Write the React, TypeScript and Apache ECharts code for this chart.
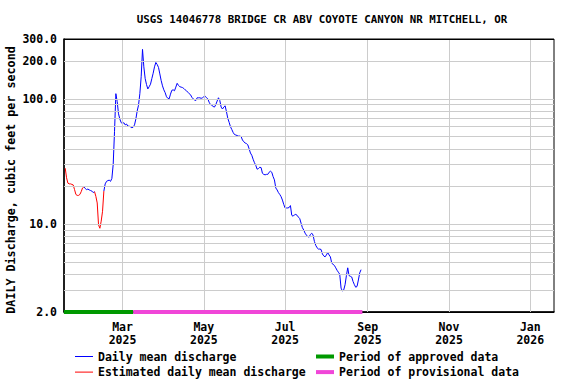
import { useEffect, useRef } from 'react';
import * as echarts from 'echarts';

const TITLE = 'USGS 14046778 BRIDGE CR ABV COYOTE CANYON NR MITCHELL, OR';
const Y_NAME = 'DAILY Discharge, cubic feet per second';

// daily mean discharge (cfs), one value per day starting at FIRST_DAY
const FIRST_DAY = '2025-01-17';
const dailyFlow = [
  28, 23.5, 21.3, 21.0, 21.0, 20.8, 20.6, 18.9, 17.3, 17.0,
  17.0, 17.3, 18.2, 19.5, 19.9, 19.3, 18.9, 19.1, 18.8, 18.6,
  18.4, 17.9, 18.2, 16.7, 14.8, 9.9, 9.3, 10.6, 12.7, 18.4,
  21.0, 22.0, 22.3, 22.5, 22.0, 23.2, 30, 55, 110, 95,
  76, 69, 64.6, 63.4, 64.6, 62, 63, 60.6, 60.6, 59.8,
  58.9, 59.5, 62, 69, 80, 89, 110, 150, 248, 180,
  145, 130, 120, 125, 131, 145, 160, 180, 195, 188,
  178, 158, 140, 127, 118, 112, 104, 101, 100, 109,
  117, 118, 116, 124, 133, 128, 125, 124, 123, 121,
  118, 116, 113, 110, 108, 103, 100, 98, 97, 102,
  102, 102, 101, 102, 104, 105, 102, 100, 94, 90,
  89, 87, 86, 90, 96, 102, 97, 86, 83, 86,
  88, 79, 70, 65, 60, 57, 54, 52, 51.5, 51,
  50.5, 50.5, 50, 47, 45.5, 44.5, 44, 43, 40, 37,
  35.5, 33, 31, 29.5, 27.5, 27.8, 28.5, 28.3, 25.5, 25,
  24.8, 25, 25, 26, 26.5, 26, 24, 22.6, 19.5, 18.8,
  17.9, 17.3, 16.6, 15.6, 14.4, 13.5, 13.5, 13.5, 13.6, 14.1,
  11.8, 11.6, 11.9, 12.0, 11.8, 11.4, 11.1, 10.2, 9.4, 9.0,
  8.5, 8.2, 8.0, 7.9, 8.3, 8.5, 8.2, 7.3, 6.8, 6.5,
  6.35, 6.35, 6.3, 5.8, 5.6, 5.5, 5.7, 5.95, 5.7, 5.5,
  4.9, 4.8, 4.7, 4.5, 4.3, 4.15, 4.0, 3.1, 2.94, 3.0,
  3.3, 3.9, 4.5, 3.9, 3.85, 3.8, 3.5, 3.3, 3.15, 3.2,
  3.6, 4.1, 4.35,
];
// index ranges (inclusive) of estimated values
const estimatedSpans = [[0, 14], [22, 29]];

const approvedPeriod = ['2025-01-16', '2025-03-09'];
const provisionalPeriod = ['2025-03-09', '2025-08-28'];

const xTickDates = ['2025-03-01', '2025-05-01', '2025-07-01', '2025-09-01', '2025-11-01', '2026-01-01'];
const xTickLabels = ['Mar\n2025', 'May\n2025', 'Jul\n2025', 'Sep\n2025', 'Nov\n2025', 'Jan\n2026'];
const yTickValues = [2, 10, 100, 200, 300];
const yGridValues = [3, 4, 5, 6, 7, 8, 9, 10, 20, 30, 40, 50, 60, 70, 80, 90, 100, 200];

const DAY = 86400000;
const X_MIN = Date.UTC(2025, 0, 16, 2);
const X_MAX = Date.UTC(2026, 0, 18, 19);
const Y_MIN = 2;
const Y_MAX = 300;

const FONT = '"DejaVu Sans Mono", monospace';
const GRID_COLOR = '#cccccc';

export default function App() {
  const ref = useRef<HTMLDivElement>(null);
  useEffect(() => {
    const chart = echarts.init(ref.current!, null, { renderer: 'svg' });
    const t0 = Date.parse(FIRST_DAY);
    const isEst = (i: number) => estimatedSpans.some(([a, b]) => i >= a && i <= b);
    const isEstInterior = (i: number) => estimatedSpans.some(([a, b]) => i > a && i < b) || i === 0;
    const blueData = dailyFlow.map((v, i) => [t0 + i * DAY, isEstInterior(i) ? null : v]);
    const redData = dailyFlow.map((v, i) => [t0 + i * DAY, isEst(i) ? v : null]);
    const xTickMs = xTickDates.map((d) => Date.parse(d));

    const textStyle = { color: '#000', fontFamily: FONT, fontSize: 11.5, fontWeight: 'bold' as const };

    // keep the edge ticks a hair inside the axis extent so they are not filtered out
    const clampY = (v: number) => Math.min(Math.max(v, Y_MIN * 1.0005), Y_MAX * 0.9995);

    const gridLines: any[] = [
      ...yGridValues.map((v) => ({ yAxis: v })),
      ...xTickMs.map((t) => ({ xAxis: t })),
      ...yTickValues.map((v) => ({
        yAxis: clampY(v),
        lineStyle: v === Y_MIN || v === Y_MAX ? { color: '#000' } : undefined,
        label: {
          show: true,
          position: 'start',
          distance: 7,
          formatter: v.toFixed(1),
          ...textStyle,
        },
      })),
    ];

    const option: any = {
      animation: false,
      backgroundColor: '#ffffff',
      grid: {
        left: 64,
        right: 22,
        top: 39,
        bottom: 72,
        show: true,
        borderColor: '#000',
        borderWidth: 1,
        backgroundColor: 'transparent',
        outerBoundsMode: 'none',
        containLabel: false,
      },
      graphic: [
        {
          type: 'text',
          x: 322,
          y: 19,
          style: {
            text: TITLE,
            fill: '#000',
            font: `bold 10.8px ${FONT}`,
            textAlign: 'center',
            textVerticalAlign: 'middle',
          },
        },
      ],
      xAxis: {
        type: 'value',
        min: X_MIN,
        max: X_MAX,
        axisLine: { show: true, lineStyle: { color: '#000', width: 1.5 } },
        axisTick: { show: false },
        splitLine: { show: false },
        axisLabel: {
          customValues: xTickMs,
          formatter: (v: number) => {
            const idx = xTickMs.findIndex((t) => Math.abs(t - v) < DAY);
            return idx >= 0 ? xTickLabels[idx] : '';
          },
          margin: 8,
          lineHeight: 13,
          hideOverlap: false,
          ...textStyle,
        },
      },
      yAxis: {
        type: 'log',
        logBase: 10,
        min: Y_MIN,
        max: Y_MAX,
        name: Y_NAME,
        nameLocation: 'middle',
        nameRotate: 90,
        nameGap: 47,
        nameTextStyle: { ...textStyle, fontSize: 11.7, padding: [0, 9, 0, 0] },
        axisLine: { show: true, lineStyle: { color: '#000', width: 1.5 } },
        axisTick: { show: false },
        axisLabel: { show: false },
        splitLine: { show: false },
        minorSplitLine: { show: false },
      },
      legend: [
        {
          data: ['Daily mean discharge', 'Estimated daily mean discharge'],
          orient: 'vertical',
          left: 75,
          top: 350,
          padding: 0,
          itemGap: 2.6,
          itemWidth: 18,
          itemHeight: 1,
          icon: 'rect',
          selectedMode: false,
          textStyle: { ...textStyle, lineHeight: 13 },
        },
        {
          data: ['Period of approved data', 'Period of provisional data'],
          orient: 'vertical',
          left: 316,
          top: 350,
          padding: 0,
          itemGap: 2.6,
          itemWidth: 18,
          itemHeight: 4,
          icon: 'rect',
          selectedMode: false,
          textStyle: { ...textStyle, lineHeight: 13 },
        },
      ],
      series: [
        {
          name: 'grid',
          type: 'line',
          z: 1,
          silent: true,
          symbol: 'none',
          data: [[X_MIN, Y_MIN]],
          lineStyle: { opacity: 0 },
          markLine: {
            silent: true,
            symbol: ['none', 'none'],
            animation: false,
            label: { show: false },
            emphasis: { disabled: true },
            lineStyle: { color: GRID_COLOR, width: 1, type: 'solid' },
            data: gridLines,
          },
        },
        {
          name: 'Daily mean discharge',
          type: 'line',
          z: 3,
          color: '#0000ff',
          symbol: 'none',
          showSymbol: false,
          lineStyle: { color: '#0000ff', width: 1 },
          data: blueData,
        },
        {
          name: 'Estimated daily mean discharge',
          type: 'line',
          z: 3,
          color: '#ff0000',
          symbol: 'none',
          showSymbol: false,
          lineStyle: { color: '#ff0000', width: 1 },
          data: redData,
        },
        {
          name: 'Period of approved data',
          type: 'line',
          z: 5,
          color: '#009900',
          symbol: 'none',
          lineStyle: { color: '#009900', width: 4 },
          data: approvedPeriod.map((d) => [Date.parse(d), Y_MIN]),
        },
        {
          name: 'Period of provisional data',
          type: 'line',
          z: 5,
          color: '#f046d8',
          symbol: 'none',
          lineStyle: { color: '#f046d8', width: 4 },
          data: provisionalPeriod.map((d) => [Date.parse(d), Y_MIN]),
        },
      ],
    };
    chart.setOption(option);
    return () => chart.dispose();
  }, []);
  return (
    <div
      ref={ref}
      style={{ position: 'fixed', left: 0, top: 0, width: 576, height: 384, background: '#fff' }}
    />
  );
}
